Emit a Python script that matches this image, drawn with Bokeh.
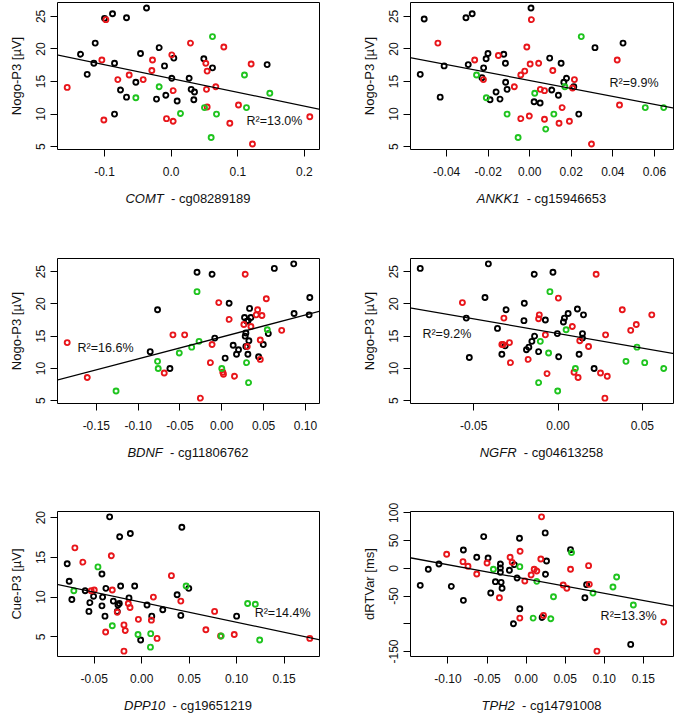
import numpy as np
from bokeh.plotting import figure
from bokeh.models import Range1d, FixedTicker, PrintfTickFormatter, Label, Slope, Div
from bokeh.layouts import column, row
from bokeh.embed import file_html
from bokeh.resources import INLINE

# ---------------- data ----------------
# Panel 1: COMT - cg08289189 vs Nogo-P3
comt_black_x = [-0.136,-0.126,-0.116,-0.114,-0.100,-0.088,-0.085,-0.085,-0.076,-0.067,-0.067,-0.053,-0.046,-0.037,-0.022,-0.018,-0.010,-0.008,0.001,0.004,0.009,0.027,0.030,0.035,0.034,0.049,0.062,0.144]
comt_black_y = [19.2,16.1,17.8,20.9,24.7,25.4,17.8,10.0,13.7,12.6,24.8,14.9,19.3,26.3,12.3,20.2,17.4,12.9,15.5,18.6,12.0,15.5,13.8,13.4,12.2,18.5,17.1,17.6]
comt_red_x = [-0.156,-0.104,-0.101,-0.098,-0.080,-0.063,-0.042,-0.029,-0.028,-0.007,0.001,0.003,0.003,0.029,0.052,0.054,0.053,0.054,0.067,0.079,0.088,0.101,0.120,0.122,0.208]
comt_red_y = [14.1,18.3,9.1,24.5,15.3,16.0,15.3,16.7,18.3,9.3,19.1,8.9,13.6,20.9,17.8,16.6,13.8,11.1,14.2,20.3,8.6,11.4,17.7,5.4,9.6]
comt_green_x = [-0.053,-0.018,0.014,0.050,0.062,0.060,0.068,0.110,0.113,0.148]
comt_green_y = [12.5,14.2,10.1,11.0,21.9,6.4,10.0,16.0,11.0,13.2]

# Panel 2: ANKK1 - cg15946653 vs Nogo-P3
ankk1_black_x = [-0.0527,-0.0508,-0.0431,-0.0412,-0.0307,-0.0296,-0.0277,-0.0230,-0.0222,-0.0210,-0.0201,-0.0191,-0.0162,-0.0143,-0.0125,-0.0117,-0.0116,-0.0109,0.0006,0.0021,0.0050,0.0096,0.0106,0.0138,0.0151,0.0164,0.0177,0.0212,0.0236,0.0314,0.0449]
ankk1_black_y = [16.1,24.6,12.6,17.4,24.8,17.6,25.4,15.6,17.1,18.5,19.3,12.2,13.4,12.3,19.2,17.8,14.9,13.8,26.3,11.9,11.7,18.6,13.7,12.9,17.8,14.9,15.5,14.2,10.0,20.2,20.9]
ankk1_red_x = [-0.0442,-0.0265,-0.0223,-0.0151,-0.0074,-0.0043,-0.0043,-0.0024,-0.0014,-0.0002,0.0002,0.0008,0.0043,0.0051,0.0071,0.0071,0.0111,0.0141,0.0156,0.0191,0.0206,0.0215,0.0297,0.0421,0.0432]
ankk1_red_y = [20.9,18.3,15.3,19.0,14.2,16.0,9.3,16.6,20.3,9.7,17.7,24.5,17.8,13.8,13.6,9.2,16.7,8.6,11.0,8.9,14.0,15.3,5.4,18.3,11.4]
ankk1_green_x = [-0.0256,-0.0209,-0.0109,-0.0056,0.0024,0.0077,0.0116,0.0169,0.0248,0.0556,0.0645]
ankk1_green_y = [16.0,12.5,10.0,6.4,13.2,7.7,10.0,14.2,21.9,11.0,11.0]

# Panel 3: BDNF - cg11806762 vs Nogo-P3
bdnf_black_x = [-0.0856,-0.0768,-0.0620,-0.0296,-0.0116,-0.0084,0.0040,0.0088,0.0136,0.0176,0.0200,0.0272,0.0280,0.0288,0.0300,0.0316,0.0288,0.0312,0.0324,0.0332,0.0348,0.0440,0.0496,0.0556,0.0628,0.0860,0.0864,0.1044,0.1052]
bdnf_black_y = [12.6,19.1,10.0,24.9,24.6,14.7,11.6,20.1,13.6,12.2,12.9,17.9,15.0,15.5,17.3,17.4,13.4,12.2,14.3,19.3,17.9,11.8,13.7,15.4,25.5,26.2,18.5,18.3,21.0]
bdnf_red_x = [-0.1848,-0.1608,-0.0688,-0.0584,-0.0444,-0.0256,-0.0136,-0.0116,-0.0036,0.0012,0.0020,0.0088,0.0152,0.0264,0.0280,0.0304,0.0348,0.0412,0.0428,0.0460,0.0460,0.0480,0.0532,0.0716]
bdnf_red_y = [14.0,8.6,9.3,15.2,15.2,5.4,10.9,13.7,20.2,9.4,9.1,17.6,8.8,16.8,24.6,13.4,16.5,18.3,19.1,14.4,11.4,18.2,20.8,15.9]
bdnf_green_x = [-0.1264,-0.0768,-0.0760,-0.0508,-0.0360,-0.0296,-0.0272,0.0000,0.0296,0.0320,0.0544]
bdnf_green_y = [6.5,11.1,10.0,12.4,13.3,21.9,14.2,10.0,10.9,7.8,16.0]

# Panel 4: NGFR - cg04613258 vs Nogo-P3
ngfr_black_x = [-0.0817,-0.0544,-0.0526,-0.0433,-0.0413,-0.0359,-0.0333,-0.0313,-0.0308,-0.0200,-0.0202,-0.0187,-0.0173,-0.0155,-0.0139,-0.0141,-0.0115,-0.0075,-0.0030,-0.0004,0.0004,0.0032,0.0038,0.0060,0.0115,0.0125,0.0145,0.0145,0.0151,0.0214]
ngfr_black_y = [25.5,17.8,11.7,21.0,26.2,16.2,12.2,13.5,19.1,20.1,17.4,12.9,13.3,14.2,15.0,24.6,12.6,17.5,24.9,15.4,11.8,17.2,17.8,18.5,19.2,12.2,15.4,14.7,18.3,10.0]
ngfr_red_x = [-0.0567,-0.0333,-0.0321,-0.0325,-0.0288,-0.0282,-0.0177,-0.0111,-0.0115,-0.0075,-0.0065,0.0002,0.0085,0.0095,0.0119,0.0129,0.0181,0.0226,0.0252,0.0278,0.0282,0.0292,0.0381,0.0431,0.0464,0.0556]
ngfr_red_y = [20.2,13.7,17.8,13.7,14.0,10.9,11.4,18.3,17.7,15.2,9.2,20.9,16.5,9.4,8.6,14.3,13.4,24.6,9.3,5.4,15.2,8.8,19.1,15.9,16.8,18.3]
ngfr_green_x = [-0.0115,-0.0105,-0.0056,-0.0048,-0.0002,0.0048,0.0103,0.0403,0.0468,0.0514,0.0627]
ngfr_green_y = [7.8,14.2,12.4,21.9,6.5,16.0,10.0,11.1,13.3,10.9,10.0]

# Panel 5: DPP10 - cg19651219 vs Cue-P3
dpp10_black_x = [-0.0785,-0.0764,-0.0736,-0.0595,-0.0556,-0.0546,-0.0507,-0.0419,-0.0412,-0.0419,-0.0387,-0.0377,-0.0338,-0.0299,-0.0257,-0.0250,-0.0236,-0.0232,-0.0222,-0.0134,-0.0120,-0.0074,-0.0011,0.0056,0.0106,0.0222,0.0373,0.0412,0.0423,0.0496,0.1000]
dpp10_black_y = [14.2,12.0,9.7,10.8,8.2,9.3,10.1,12.9,10.0,8.9,7.6,11.1,20.1,9.5,8.2,9.0,9.2,17.6,11.4,9.9,18.0,11.4,4.6,9.0,7.6,8.4,10.3,7.7,18.8,11.1,7.6]
dpp10_red_x = [-0.0704,-0.0620,-0.0532,-0.0500,-0.0380,-0.0320,-0.0310,-0.0257,-0.0187,-0.0187,-0.0173,-0.0141,-0.0123,-0.0035,0.0102,0.0123,0.0162,0.0313,0.0412,0.0676,0.0768,0.0831,0.0975,0.1771]
dpp10_red_y = [16.2,14.4,10.8,10.9,5.6,15.2,10.9,8.1,6.5,3.2,5.8,9.2,8.7,7.2,7.1,10.0,4.8,12.7,9.5,5.9,8.2,5.1,5.3,4.8]
dpp10_green_x = [-0.0715,-0.0461,-0.0310,-0.0039,0.0092,0.0095,0.0468,0.0838,0.1116,0.1197,0.1243]
dpp10_green_y = [10.8,13.8,6.4,5.3,3.7,5.4,11.4,5.1,9.2,9.1,4.6]

# Panel 6: TPH2 - cg14791008 vs dRTVar
tph2_black_x = [-0.1355,-0.1252,-0.1115,-0.0957,-0.0803,-0.0803,-0.0632,-0.0543,-0.0487,-0.0453,-0.0393,-0.0329,-0.0329,-0.0329,-0.0320,-0.0308,-0.0214,-0.0150,-0.0162,-0.0115,-0.0085,-0.0081,0.0205,0.0244,0.0248,0.0261,0.0568,0.0752,0.0774,0.1338]
tph2_black_y = [-30.7,-1.8,7.8,-32.5,33.1,-57.8,19.9,57.2,18.7,-44.6,-24.1,7.8,0.6,-7.2,-25.3,-36.1,-3.6,6.6,-100.0,-17.5,54.2,-72.9,-88.6,63.9,-10.8,13.3,33.7,-53.0,-29.5,-137.3]
tph2_red_x = [-0.1017,-0.0808,-0.0744,-0.0632,-0.0500,-0.0342,-0.0205,-0.0179,-0.0077,-0.0081,-0.0017,0.0064,0.0103,0.0137,0.0188,0.0197,0.0222,0.0474,0.0521,0.0568,0.0799,0.0808,0.0906,0.1761]
tph2_red_y = [25.3,12.0,3.6,-10.2,9.6,-53.0,19.9,10.8,30.7,-89.8,-22.9,-12.0,-1.8,-4.8,16.9,92.8,-84.9,-30.1,-36.1,-1.8,4.8,-28.9,-149.4,-97.0]
tph2_green_x = [-0.0419,-0.0081,0.0090,0.0137,0.0316,0.0350,0.0581,0.0855,0.1111,0.1158,0.1372]
tph2_green_y = [-1.8,3.0,-89.8,-23.5,-91.0,-51.2,28.3,-44.6,-33.7,-15.7,-66.3]

genes = ["COMT", "ANKK1", "BDNF", "NGFR", "DPP10", "TPH2"]
cpg_sites = ["cg08289189", "cg15946653", "cg11806762", "cg04613258", "cg19651219", "cg14791008"]
y_titles = ["Nogo-P3 [µV]", "Nogo-P3 [µV]", "Nogo-P3 [µV]", "Nogo-P3 [µV]", "Cue-P3 [µV]", "dRTVar [ms]"]
r2_texts = ["R²=13.0%", "R²=9.9%", "R²=16.6%", "R²=9.2%", "R²=14.4%", "R²=13.3%"]
# regression lines (slope, intercept)
fit_slopes = [-21.2, -61.1, 34.0, -45.4, -25.2, -258.0]
fit_intercepts = [15.46, 15.16, 14.88, 15.41, 9.36, -19.3]

x_ticks = [[-0.1, 0.0, 0.1, 0.2],
           [-0.04, -0.02, 0.0, 0.02, 0.04, 0.06],
           [-0.15, -0.10, -0.05, 0.0, 0.05, 0.10],
           [-0.05, 0.0, 0.05],
           [-0.05, 0.0, 0.05, 0.10, 0.15],
           [-0.10, -0.05, 0.0, 0.05, 0.10, 0.15]]
x_tick_formats = ["%.1f", "%.2f", "%.2f", "%.2f", "%.2f", "%.2f"]
y_ticks = [[5, 10, 15, 20, 25]] * 4 + [[5, 10, 15, 20], [-150, -100, -50, 0, 50, 100]]
y_hidden_ticks = [[], [], [], [], [], [-100]]

groups = [
    [(comt_black_x, comt_black_y), (comt_red_x, comt_red_y), (comt_green_x, comt_green_y)],
    [(ankk1_black_x, ankk1_black_y), (ankk1_red_x, ankk1_red_y), (ankk1_green_x, ankk1_green_y)],
    [(bdnf_black_x, bdnf_black_y), (bdnf_red_x, bdnf_red_y), (bdnf_green_x, bdnf_green_y)],
    [(ngfr_black_x, ngfr_black_y), (ngfr_red_x, ngfr_red_y), (ngfr_green_x, ngfr_green_y)],
    [(dpp10_black_x, dpp10_black_y), (dpp10_red_x, dpp10_red_y), (dpp10_green_x, dpp10_green_y)],
    [(tph2_black_x, tph2_black_y), (tph2_red_x, tph2_red_y), (tph2_green_x, tph2_green_y)],
]

# ---------------- styling / layout ----------------
GROUP_COLORS = ["#000000", "#e8161b", "#1fc41f"]
FONT = "Liberation Sans"
# R^2 label anchor (left-middle) in data coordinates, per panel
r2_pos = [(0.113, 9.0), (0.0384, 14.7), (-0.1724, 13.1), (-0.0804, 15.3), (0.119, 8.0), (0.0953, -86.1)]

col_w = [337, 337]
col_bl = [57, 73]
col_br = [18, 1]
row_fig_h = [183, 202, 200]
row_bt = [2, 23, 21]
row_bb = [34, 34, 34]
row_div_h = [52, 53, 25]


def padded_range(vals):
    lo, hi = min(vals), max(vals)
    span = hi - lo
    return Range1d(lo - 0.04 * span, hi + 0.04 * span)


def make_panel(i):
    r, c = divmod(i, 2)
    xs_all = [v for g in groups[i] for v in g[0]]
    ys_all = [v for g in groups[i] for v in g[1]]
    xr = padded_range(xs_all)
    yr = padded_range(ys_all)
    p = figure(width=col_w[c], height=row_fig_h[r], x_range=xr, y_range=yr,
               output_backend="svg", toolbar_location=None,
               min_border_left=col_bl[c], min_border_right=col_br[c],
               min_border_top=row_bt[r], min_border_bottom=row_bb[r])
    p.xgrid.visible = False
    p.ygrid.visible = False
    p.outline_line_color = "black"
    p.outline_line_alpha = 1.0
    p.outline_line_width = 1
    p.background_fill_color = "white"
    p.border_fill_color = "white"
    for ax in (p.xaxis[0], p.yaxis[0]):
        ax.axis_line_color = None
        ax.major_tick_in = 0
        ax.major_tick_out = 7
        ax.major_tick_line_color = "black"
        ax.minor_tick_line_color = None
        ax.major_label_text_font = FONT
        ax.major_label_text_font_size = "12px"
        ax.major_label_text_color = "#111111"
    p.xaxis.ticker = FixedTicker(ticks=x_ticks[i])
    p.xaxis.formatter = PrintfTickFormatter(format=x_tick_formats[i])
    p.xaxis.major_label_standoff = 10
    p.yaxis.ticker = FixedTicker(ticks=y_ticks[i])
    p.yaxis.formatter = PrintfTickFormatter(format="%d")
    if y_hidden_ticks[i]:
        p.yaxis.major_label_overrides = {t: "" for t in y_hidden_ticks[i]}
    p.yaxis.major_label_orientation = "vertical"
    p.yaxis.major_label_standoff = 5
    p.yaxis.axis_label = y_titles[i]
    p.yaxis.axis_label_text_font = FONT
    p.yaxis.axis_label_text_font_size = "13px"
    p.yaxis.axis_label_text_font_style = "normal"
    p.yaxis.axis_label_text_color = "#111111"
    p.yaxis.axis_label_standoff = 10

    for (gx, gy), col in zip(groups[i], GROUP_COLORS):
        p.scatter(gx, gy, marker="circle", size=5, fill_color=None,
                  line_color=col, line_width=1.9)

    p.add_layout(Slope(gradient=fit_slopes[i], y_intercept=fit_intercepts[i],
                       line_color="black", line_width=1.3))

    p.add_layout(Label(x=r2_pos[i][0], y=r2_pos[i][1], text=r2_texts[i],
                       text_font=FONT, text_font_size="12.5px", text_color="#111111",
                       text_align="left", text_baseline="middle"))

    # x-axis title: italic gene name + " - cg..." site, centred under the frame
    frame_w = col_w[c] - col_bl[c] - col_br[c]
    html = (f'<div style="width:{frame_w}px;margin-left:{col_bl[c]}px;padding-top:8px;'
            f'text-align:center;white-space:nowrap;font-family:\'{FONT}\',Arial,sans-serif;'
            f'font-size:13px;line-height:15px;color:#111111">'
            f'<i>{genes[i]}</i>&nbsp; - {cpg_sites[i]}</div>')
    d = Div(text=html, width=col_w[c], height=row_div_h[r], margin=0)
    return column(p, d, spacing=0)


cells = [make_panel(i) for i in range(6)]
page = column(row(cells[0], cells[1], spacing=0),
              row(cells[2], cells[3], spacing=0),
              row(cells[4], cells[5], spacing=0), spacing=0)

open("out.html", "w").write(file_html(page, INLINE))
